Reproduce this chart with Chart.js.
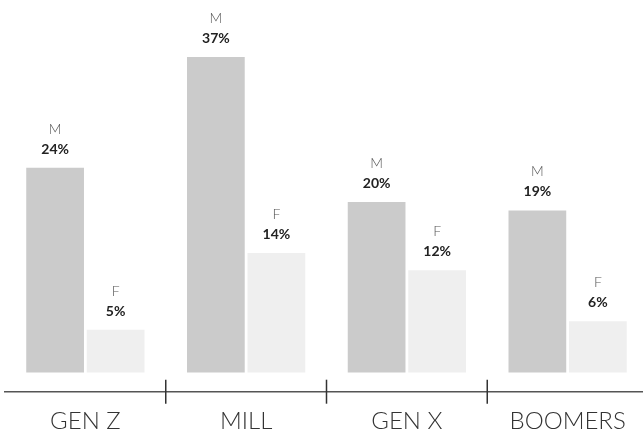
<!DOCTYPE html>
<html>
<head>
<meta charset="utf-8">
<script src="https://cdn.jsdelivr.net/npm/chart.js@4/dist/chart.umd.min.js"></script>
<style>
  html, body { margin: 0; padding: 0; background: #ffffff; overflow: hidden; }
  #wrap { width: 643px; height: 431px; overflow: hidden; position: relative; }
  canvas { display: block; }
</style>
</head>
<body>
<div id="wrap"><canvas id="chart" width="648" height="431"></canvas></div>
<script>
// Generations and the share of each gender
const categories = ['GEN Z', 'MILL', 'GEN X', 'BOOMERS'];
const seriesNames = ['M', 'F'];
const maleValues = [24, 37, 20, 19];
const femaleValues = [5, 14, 12, 6];

const FONT = 'Lato, "Open Sans", "DejaVu Sans", sans-serif';

// Writes the series letter and the percentage above every bar
const barLabels = {
  id: 'barLabels',
  afterDatasetsDraw(chart) {
    const ctx = chart.ctx;
    ctx.save();
    ctx.textAlign = 'center';
    ctx.textBaseline = 'alphabetic';
    chart.data.datasets.forEach((ds, di) => {
      const meta = chart.getDatasetMeta(di);
      meta.data.forEach((bar, i) => {
        const x = bar.x;
        const top = bar.y;
        ctx.font = '300 14px ' + FONT;
        ctx.fillStyle = '#555555';
        ctx.fillText(ds.label, x, top - 34);
        ctx.font = 'bold 14px ' + FONT;
        ctx.fillStyle = '#222222';
        ctx.fillText(ds.data[i] + '%', x, top - 14);
      });
    });
    ctx.restore();
  }
};

// Short vertical dividers across the baseline between the groups
const dividers = {
  id: 'dividers',
  afterDraw(chart) {
    const ctx = chart.ctx;
    const xs = chart.scales.x;
    const yLine = chart.chartArea.bottom;
    ctx.save();
    ctx.strokeStyle = '#333333';
    ctx.lineWidth = 1.5;
    for (let i = 0; i < categories.length - 1; i++) {
      const x = (xs.getPixelForValue(i) + xs.getPixelForValue(i + 1)) / 2;
      ctx.beginPath();
      ctx.moveTo(x, yLine - 12);
      ctx.lineTo(x, yLine + 12);
      ctx.stroke();
    }
    ctx.restore();
  }
};

new Chart(document.getElementById('chart'), {
  type: 'bar',
  data: {
    labels: categories,
    datasets: [
      { label: seriesNames[0], data: maleValues, backgroundColor: '#cbcbcb' },
      { label: seriesNames[1], data: femaleValues, backgroundColor: '#efefef' }
    ]
  },
  options: {
    responsive: false,
    devicePixelRatio: 1,
    animation: false,
    layout: { padding: { left: 5, right: 0, top: 0, bottom: 0 } },
    plugins: {
      legend: { display: false },
      tooltip: { enabled: false }
    },
    datasets: {
      bar: { categoryPercentage: 0.753, barPercentage: 0.954 }
    },
    scales: {
      x: {
        grid: { display: false, drawTicks: false },
        border: { display: true, color: '#555555', width: 1.5 },
        ticks: {
          color: '#333333',
          font: { family: FONT, size: 24, weight: '300' },
          padding: 15,
          maxRotation: 0,
          autoSkip: false
        },
        afterFit(scale) { scale.height = 39.3; }
      },
      y: {
        display: false,
        min: -2.25,
        max: 43.67
      }
    }
  },
  plugins: [barLabels, dividers]
});
</script>
</body>
</html>
